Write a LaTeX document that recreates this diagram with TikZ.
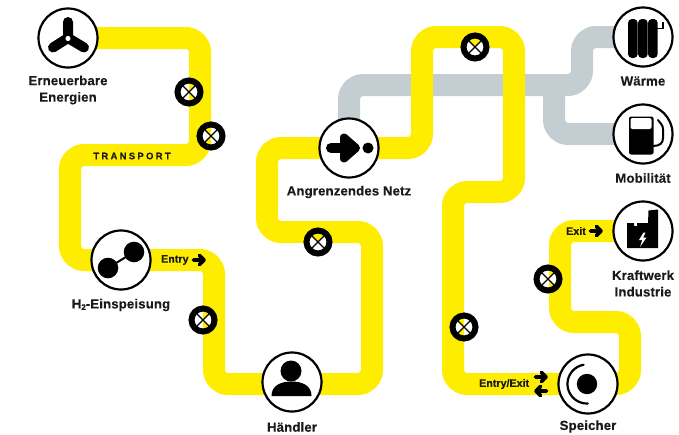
\documentclass[tikz,border=0pt]{standalone}
\usepackage{fontspec}
\setmainfont{Liberation Sans}
\usetikzlibrary{backgrounds}
\definecolor{pipeyellow}{HTML}{FFED00}
\definecolor{pipegray}{HTML}{C4CDD1}
\definecolor{inktext}{HTML}{1A1A1A}
\tikzset{
  pipe/.style={line width=22pt,rounded corners=14pt,line join=round},
  hub/.style={circle,draw=black,line width=2.2pt,fill=white,minimum size=59pt,inner sep=0pt},
  valve/.style={circle,draw=black,line width=6pt,minimum size=23pt,inner sep=0pt,
    path picture={
      \begin{scope}[shift={(path picture bounding box.center)}]
        \fill[white] (0,0)--(14,14)--(14,-14)--cycle;
        \fill[white] (0,0)--(-14,14)--(-14,-14)--cycle;
        \draw[black,line width=1.2pt] (-14,-14)--(14,14) (-14,14)--(14,-14);
      \end{scope}}},
  caption/.style={inner sep=0pt,align=center,text=inktext,
    font=\fontsize{13.2}{16.5}\selectfont\bfseries\addfontfeature{LetterSpace=1,FakeBold=0.25}},
  flowtag/.style={inner sep=0pt,anchor=west,text=inktext,
    font=\fontsize{10.7}{12}\selectfont\bfseries\addfontfeature{FakeBold=0.25}},
  thickline/.style={line width=3.6pt,line cap=round,line join=round},
  pics/flowarrow/.style={code={
    \draw[black,thickline] (-5.5,0)--(5,0) (0.5,-4.5)--(5,0)--(0.5,4.5);
  }}
}
\begin{document}
\begin{tikzpicture}[x=1pt,y=-1pt]
\useasboundingbox (0,0) rectangle (679,434);
% hubs
\node[hub] (wind) at (68,38) {};
\node[hub] (h2) at (121,260) {};
\node[hub] (trader) at (292,382) {};
\node[hub] (grid) at (349,148) {};
\node[hub] (heat) at (643,37) {};
\node[hub] (fuel) at (643,134) {};
\node[hub] (plant) at (643,231) {};
\node[hub] (store) at (588,384) {};
\coordinate (traderpipe) at (292,384);
% pipes
\begin{scope}[on background layer]
  \draw[pipe,pipegray] (grid.center) -- (349,85) -- (582,85) -- (582,37) -- (heat.center);
  \draw[pipe,pipegray] (554,85) -- (554,134) -- (fuel.center);
  \draw[pipe,pipeyellow] (wind.center) -- (200,38) -- (200,155) -- (70,155) -- (70,260) -- (h2.center);
  \draw[pipe,pipeyellow] (h2.center) -- (214,260) -- (214,384) -- (traderpipe);
  \draw[pipe,pipeyellow] (traderpipe) -- (372,384) -- (372,232) -- (267,232) -- (267,148) -- (grid.center);
  \draw[pipe,pipeyellow] (grid.center) -- (422,148) -- (422,37) -- (514,37) -- (514,192) -- (453,192) -- (453,384) -- (store.center);
  \draw[pipe,pipeyellow] (store.center) -- (630,384) -- (630,322) -- (560,322) -- (560,231) -- (plant.center);
\end{scope}
% valves
\node[valve] (v1) at (189,92) {};
\node[valve] (v2) at (211,136) {};
\node[valve] (v3) at (203,320) {};
\node[valve] (v4) at (318,242) {};
\node[valve] (v5) at (475,47) {};
\node[valve] (v6) at (464,327) {};
\node[valve] (v7) at (548,279) {};
% wind icon
\draw[black,line width=10pt,line cap=round,line join=round]
  (68,22)--(68,38) (53,47.5)--(68,38)--(84,47.5);
\fill[white] (68,38.5) circle (2.6);
% h2 icon
\draw[black,line width=2pt] (108,268)--(134,252);
\fill[black] (108,268) circle (10.3) (134,252) circle (10.3);
% grid icon
\draw[black,line width=10pt,line cap=round] (331,148)--(350,148);
\draw[black,fill=black,line width=8pt,line join=round] (344,137.5)--(356,148)--(344,158.5)--cycle;
\fill[black] (368,148) circle (5.5);
% trader icon
\fill[black] (291,371) circle (10.5);
\fill[black] (271.5,396) .. controls (271.5,386) and (280,381.5) .. (291.5,381.5)
  .. controls (303,381.5) and (311.5,386) .. (311.5,396) -- cycle;
% store icon
\fill[black] (587,384) circle (10.2);
\draw[black,line width=2.2pt,line cap=round] plot[domain=100:272,samples=40]
  ({587+19.5*cos(\x)},{384-19.5*sin(\x)});
% heat icon
\fill[black,rounded corners=4pt] (628,19) rectangle (637.7,58);
\fill[black,rounded corners=4pt] (638,19) rectangle (647.7,58);
\fill[black,rounded corners=4pt] (648,19) rectangle (657.7,58);
\draw[black,line width=1.8pt] (657,28.5)--(663,28.5)--(663,22);
% fuel icon
\fill[black,rounded corners=2pt] (629,116.5) rectangle (653.5,154.5);
\fill[white,rounded corners=2pt] (630.5,118) rectangle (651.5,129);
\draw[black,line width=2pt,line cap=round,line join=round]
  (653,146) .. controls (660,146) and (663,143) .. (663,138) -- (663,129)
  .. controls (663,125) and (660,123) .. (658,120);
% plant icon
\fill[black] (627,223) -- (634,223) -- (634,226) -- (637,226) -- (637,223) -- (648,223) -- (648.5,210.5)
  -- (658,209.5) -- (658,248) -- (627,248) -- cycle;
\fill[white] (643.5,232.5) -- (639,240) -- (642.3,240) -- (640,247) -- (646.5,237.5) -- (643.2,237.5) -- (645.5,232.5) -- cycle;
% captions
\node[caption] (lwind) at (68,90) {Erneuerbare\\Energien};
\node[caption] (lh2) at (121,305) {H\raisebox{-1.5pt}{\fontsize{8}{8}\selectfont 2}-Einspeisung};
\node[caption] (ltrader) at (292,427) {Händler};
\node[caption] (lgrid) at (349,192) {Angrenzendes Netz};
\node[caption] (lheat) at (643,81) {Wärme};
\node[caption] (lfuel) at (643,178) {Mobilität};
\node[caption] (lplant) at (643,283.5) {Kraftwerk\\Industrie};
\node[caption] (lstore) at (588,426.5) {Speicher};
% pipe tags
\node[inner sep=0pt,text=inktext,font=\fontsize{9.5}{11}\selectfont\bfseries\addfontfeature{LetterSpace=24,FakeBold=0.2}] (ttrans) at (132,156) {TRANSPORT};
\node[flowtag] (tentry) at (161,260) {Entry};
\pic at (199,260) {flowarrow};
\node[flowtag] (texit) at (566,231) {Exit};
\pic at (596,231) {flowarrow};
\node[flowtag] (tee) at (479,384) {Entry/Exit};
\pic at (541,377) {flowarrow};
\pic[xscale=-1] at (541,391) {flowarrow};
\end{tikzpicture}
\end{document}
